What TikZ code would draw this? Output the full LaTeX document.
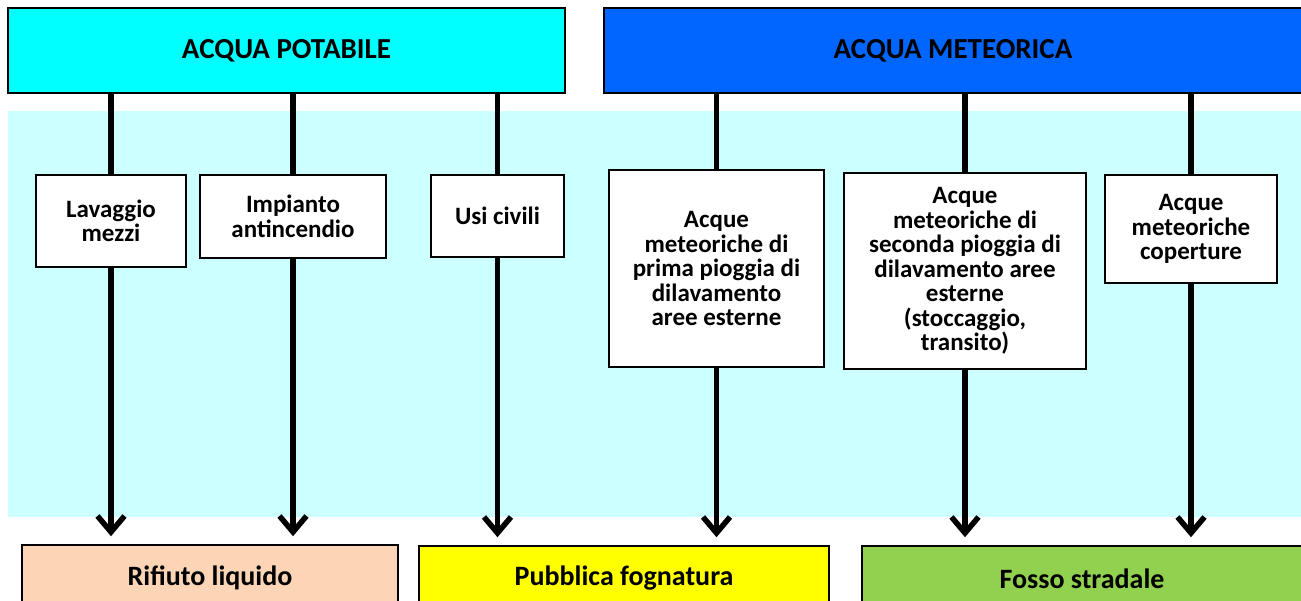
\documentclass[tikz,border=0pt]{standalone}
\usepackage{fontspec}
\setmainfont{Carlito}
\usetikzlibrary{arrows.meta}

\definecolor{colPotabile}{HTML}{00FFFF}
\definecolor{colMeteorica}{HTML}{0066FF}
\definecolor{colSfondo}{HTML}{CCFFFF}
\definecolor{colRifiuto}{HTML}{FBD5B5}
\definecolor{colFognatura}{HTML}{FFFF00}
\definecolor{colFosso}{HTML}{92D050}

\tikzset{
	header/.style={draw, line width=2.5pt, inner sep=0pt, minimum height=85pt,
		font=\bfseries\fontsize{29}{30}\selectfont},
	uso/.style={draw, fill=white, line width=1.5pt, inner sep=0pt, align=center,
		font=\bfseries\fontsize{25}{24.5}\selectfont},
	recapito/.style={draw, line width=1.5pt, inner sep=0pt, minimum height=65pt,
		font=\bfseries\fontsize{28}{30}\selectfont},
	flusso/.style={line width=5.5pt}
}

\begin{document}
\begin{tikzpicture}[x=1pt, y=-1pt]
	\useasboundingbox (0,0) rectangle (1301,600);

	\fill
		[colSfondo] (8,111) rectangle (1305,517);

	\node [header, fill=colPotabile, minimum width=557pt] (potabile) at (286.5,50.5) {ACQUA POTABILE};
	\node [header, fill=colMeteorica, minimum width=698pt] (meteorica) at (953,50.5) {ACQUA METEORICA};

	\node [uso, minimum width=150pt, minimum height=92pt] (lavaggio) at (111,221) {Lavaggio\\mezzi};
	\node [uso, minimum width=186pt, minimum height=83pt] (antincendio) at (293,216.5) {Impianto\\antincendio};
	\node [uso, minimum width=133pt, minimum height=82pt] (civili) at (497.5,216) {Usi civili};
	\node [uso, minimum width=215pt, minimum height=197pt] (prima) at (716.5,268.5)
		{Acque\\meteoriche di\\prima pioggia di\\dilavamento\\aree esterne};
	\node [uso, minimum width=242pt, minimum height=196pt] (seconda) at (965,271)
		{Acque\\meteoriche di\\seconda pioggia di\\dilavamento aree\\esterne\\(stoccaggio,\\transito)};
	\node [uso, minimum width=172pt, minimum height=108pt] (coperture) at (1191,229)
		{Acque\\meteoriche\\coperture};

	\node [recapito, fill=colRifiuto, minimum width=376pt] (rifiuto) at (210,577.5) {Rifiuto liquido};
	\node [recapito, fill=colFognatura, minimum width=410pt] (fognatura) at (624,578.5) {Pubblica fognatura};
	\node [recapito, fill=colFosso, minimum width=440pt] (fosso) at (1082,578.5) {Fosso stradale};

	\foreach \uso/\hdr/\dst in {lavaggio/potabile/rifiuto, antincendio/potabile/rifiuto,
		civili/potabile/fognatura, prima/meteorica/fognatura,
		seconda/meteorica/fosso, coperture/meteorica/fosso}
	{
		\draw
			[flusso] (\uso.north |- \hdr.south) -- (\uso.north);
		\draw
			[flusso, -{Straight Barb[length=16pt, width=27pt]}, shorten >=8pt]
			(\uso.south) -- (\uso.south |- \dst.north);
	}
\end{tikzpicture}
\end{document}
